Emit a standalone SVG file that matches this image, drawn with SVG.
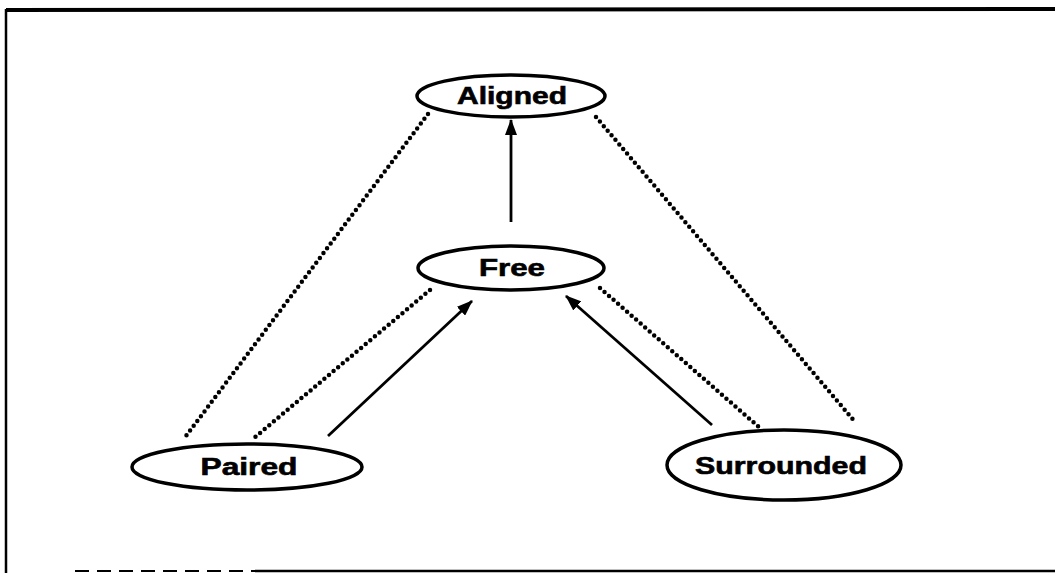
<svg xmlns="http://www.w3.org/2000/svg" width="1055" height="573" viewBox="0 0 1055 573">
<style>
.node ellipse{fill:#fff;stroke:#000;stroke-width:3.5}
.node text{font-family:"Liberation Sans",Arial,sans-serif;font-weight:bold;font-size:23px;fill:#000;stroke:#000;stroke-width:0.6;text-anchor:middle}
.dot{stroke:#000;stroke-width:4.5;stroke-linecap:round;stroke-dasharray:0 6;fill:none}
.arr{stroke:#000;stroke-width:2.8;fill:none;marker-end:url(#ah)}
.frame{stroke:#000;fill:none}
</style>
<defs>
<marker id="ah" markerWidth="16" markerHeight="12" refX="15" refY="6" orient="auto" markerUnits="userSpaceOnUse">
<path d="M0,0 L16,6 L0,12 Z" fill="#000"/>
</marker>
</defs>
<rect width="1055" height="573" fill="#fff"/>
<g id="frame">
<path class="frame" d="M6,10 L1055,9" stroke-width="4"/>
<path class="frame" d="M6,9 L6,573" stroke-width="2.5"/>
<path class="frame" d="M75,571 L255,571" stroke-width="2" stroke-dasharray="14 8"/>
<path class="frame" d="M255,571 L1055,571" stroke-width="2.5"/>
</g>
<g id="connectors">
<line class="dot" x1="428" y1="114" x2="186" y2="436"/>
<line class="dot" x1="596" y1="117" x2="856" y2="423"/>
<line class="dot" x1="430" y1="290" x2="254" y2="438"/>
<line class="dot" x1="600" y1="288" x2="760" y2="428"/>
<line class="arr" x1="511" y1="222" x2="511" y2="120"/>
<line class="arr" x1="328" y1="436" x2="472" y2="301"/>
<line class="arr" x1="712" y1="425" x2="566" y2="296"/>
</g>
<g id="aligned" class="node">
<ellipse cx="511" cy="96" rx="94" ry="21"/>
<text x="512" y="104" textLength="110" lengthAdjust="spacingAndGlyphs">Aligned</text>
</g>
<g id="free" class="node">
<ellipse cx="511" cy="268" rx="93" ry="22"/>
<text x="512" y="276" textLength="66" lengthAdjust="spacingAndGlyphs">Free</text>
</g>
<g id="paired" class="node">
<ellipse cx="247" cy="467" rx="115" ry="23"/>
<text x="249" y="475" textLength="97" lengthAdjust="spacingAndGlyphs">Paired</text>
</g>
<g id="surrounded" class="node">
<ellipse cx="784" cy="465" rx="117" ry="35"/>
<text x="781" y="474" textLength="172" lengthAdjust="spacingAndGlyphs">Surrounded</text>
</g>
</svg>
